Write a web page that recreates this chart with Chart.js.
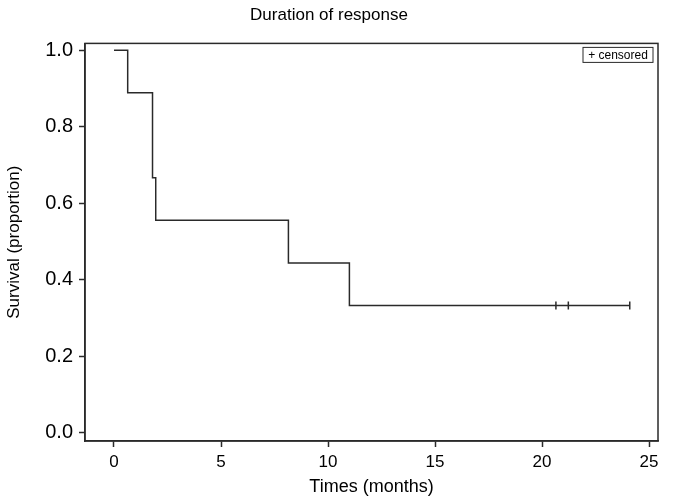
<!DOCTYPE html>
<html>
<head>
<meta charset="utf-8">
<script src="https://cdn.jsdelivr.net/npm/chart.js@4.4.1/dist/chart.umd.min.js"></script>
<style>
  html, body { margin: 0; padding: 0; background: #fff; }
  #wrap { width: 674px; height: 504px; }
</style>
</head>
<body>
<div id="wrap"><canvas id="myChart" width="674" height="504"></canvas></div>
<script>
// step times (months) and survival after each event
const eventTimes = [0, 0.64, 1.8, 1.95, 8.15, 11.0, 24.1];
const survival = [1.0, 0.889, 0.667, 0.556, 0.444, 0.333, 0.333];
// censored observations
const censorTimes = [20.65, 21.23, 24.1];
const censorSurv = [0.333, 0.333, 0.333];
const xTicks = [0, 5, 10, 15, 20, 25];
const yTicks = [0, 0.2, 0.4, 0.6, 0.8, 1.0];

const fontFam = '"Liberation Sans", Arial, sans-serif';
const ink = '#2a2a2a';

const frame = {
  id: 'frame',
  afterDraw(chart) {
    const { ctx, chartArea: a } = chart;
    ctx.save();
    ctx.strokeStyle = ink;
    ctx.lineWidth = 1.5;
    ctx.strokeRect(a.left, a.top, a.right - a.left, a.bottom - a.top);
    // censored key
    const bx = a.right - 75, by = a.top + 4, bw = 70, bh = 15;
    ctx.lineWidth = 1;
    ctx.strokeRect(bx, by, bw, bh);
    ctx.fillStyle = '#000';
    ctx.font = '12px ' + fontFam;
    ctx.textBaseline = 'middle';
    ctx.textAlign = 'center';
    ctx.fillText('+ censored', bx + bw / 2, by + bh / 2 + 1);
    ctx.restore();
  }
};

new Chart(document.getElementById('myChart'), {
  type: 'scatter',
  data: {
    datasets: [{
      label: 'Survival',
      data: eventTimes.map((t, i) => ({ x: t, y: survival[i] })),
      showLine: true,
      stepped: 'before',
      borderColor: ink,
      borderWidth: 1.5,
      pointRadius: 0,
      fill: false
    }, {
      label: 'censored',
      data: censorTimes.map((t, i) => ({ x: t, y: censorSurv[i] })),
      showLine: false,
      pointStyle: 'line',
      rotation: 90,
      pointRadius: 4,
      pointBorderWidth: 1.5,
      borderColor: ink,
      backgroundColor: ink
    }]
  },
  options: {
    responsive: false,
    animation: false,
    layout: { padding: { left: 0, right: 16, top: 0, bottom: 0 } },
    plugins: {
      legend: { display: false },
      tooltip: { enabled: false },
      title: {
        display: true,
        text: 'Duration of response',
        color: '#000',
        font: { family: fontFam, size: 17, weight: 'normal' },
        padding: { top: 5, bottom: 18 }
      }
    },
    scales: {
      x: {
        type: 'linear',
        min: -1.355,
        max: 25.42,
        afterBuildTicks(s) { s.ticks = xTicks.map(v => ({ value: v })); },
        afterFit(s) { s.height = 63; },
        grid: { drawOnChartArea: false, drawTicks: true, tickLength: 6, color: ink, tickWidth: 1.5 },
        border: { display: true, color: ink, width: 1.5 },
        ticks: { color: '#000', padding: 5, font: { family: fontFam, size: 17 }, maxRotation: 0 },
        title: {
          display: true,
          text: 'Times (months)',
          color: '#000',
          font: { family: fontFam, size: 18 },
          padding: { top: 0, bottom: 6 }
        }
      },
      y: {
        min: -0.021,
        max: 1.018,
        afterBuildTicks(s) { s.ticks = yTicks.map(v => ({ value: v })); },
        afterFit(s) { s.width = 85; },
        grid: { drawOnChartArea: false, drawTicks: true, tickLength: 6, color: ink, tickWidth: 1.5 },
        border: { display: true, color: ink, width: 1.5 },
        ticks: {
          color: '#000',
          padding: 6,
          font: { family: fontFam, size: 20 },
          callback: v => v.toFixed(1)
        },
        title: {
          display: true,
          text: 'Survival (proportion)',
          color: '#000',
          font: { family: fontFam, size: 17 },
          padding: { bottom: 0 }
        }
      }
    }
  },
  plugins: [frame]
});
</script>
</body>
</html>
